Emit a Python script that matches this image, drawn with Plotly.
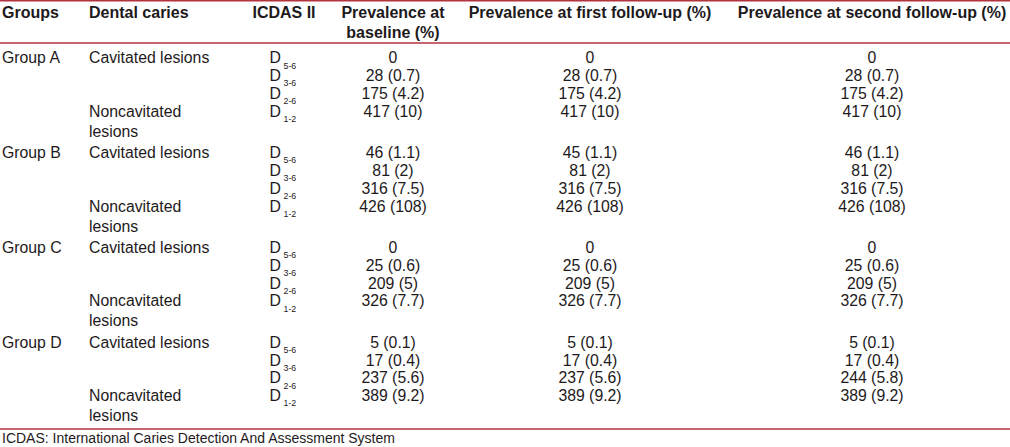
import plotly.graph_objects as go

# ---- data ----
groups = ["Group A", "Group B", "Group C", "Group D"]
caries_types = ["Cavitated lesions", "Noncavitated", "lesions"]
icdas_codes = ["5-6", "3-6", "2-6", "1-2"]
baseline = [
    ["0", "28 (0.7)", "175 (4.2)", "417 (10)"],
    ["46 (1.1)", "81 (2)", "316 (7.5)", "426 (108)"],
    ["0", "25 (0.6)", "209 (5)", "326 (7.7)"],
    ["5 (0.1)", "17 (0.4)", "237 (5.6)", "389 (9.2)"],
]
first_fu = [
    ["0", "28 (0.7)", "175 (4.2)", "417 (10)"],
    ["45 (1.1)", "81 (2)", "316 (7.5)", "426 (108)"],
    ["0", "25 (0.6)", "209 (5)", "326 (7.7)"],
    ["5 (0.1)", "17 (0.4)", "237 (5.6)", "389 (9.2)"],
]
second_fu = [
    ["0", "28 (0.7)", "175 (4.2)", "417 (10)"],
    ["46 (1.1)", "81 (2)", "316 (7.5)", "426 (108)"],
    ["0", "25 (0.6)", "209 (5)", "326 (7.7)"],
    ["5 (0.1)", "17 (0.4)", "244 (5.8)", "389 (9.2)"],
]
headers = ["Groups", "Dental caries", "ICDAS II", "Prevalence at", "baseline (%)",
           "Prevalence at first follow-up (%)", "Prevalence at second follow-up (%)"]
footnote = "ICDAS: International Caries Detection And Assessment System"

# ---- layout constants ----
W, H = 1010, 447
FONT = "Liberation Sans, Arial, sans-serif"
TXT = "#1e1a1b"
RED = "#b3323c"
FS = 15.8
FS_HEAD = 16
X_GROUP, X_CARIES, X_D, X_ICDAS_H = 2, 89, 269.5, 284
X_BASE, X_FIRST, X_SECOND = 393, 590, 872
Y0, GROUP_STEP, ROW_STEP, LES_GAP = 59.5, 94.8, 17.8, 20

fig = go.Figure()

def add_text(xs, ys, texts, pos, size=FS, color=TXT):
    fig.add_trace(go.Scatter(x=xs, y=ys, text=texts, mode="text", textposition=pos,
                             textfont=dict(family=FONT, size=size, color=color),
                             hoverinfo="skip", showlegend=False, cliponaxis=False))

# headers
add_text([X_GROUP, X_CARIES], [14, 14], [f"<b>{headers[0]}</b>", f"<b>{headers[1]}</b>"],
         "middle right", size=FS_HEAD)
add_text([X_ICDAS_H, X_BASE, X_BASE, X_FIRST, X_SECOND], [14, 14, 34, 14, 14],
         [f"<b>{h}</b>" for h in headers[2:]], "middle center", size=FS_HEAD)

# body
gx, gy, cx, cy, ct = [], [], [], [], []
dx, dy, sx, sy, st = [], [], [], [], []
vx, vy, vt = [], [], []
for g, name in enumerate(groups):
    top = Y0 + g * GROUP_STEP
    gx.append(X_GROUP); gy.append(top)
    cx += [X_CARIES] * 3
    cy += [top, top + 3 * ROW_STEP, top + 3 * ROW_STEP + LES_GAP]
    ct += caries_types
    for r, code in enumerate(icdas_codes):
        y = top + r * ROW_STEP
        dx.append(X_D); dy.append(y)
        sx.append(X_D + 14); sy.append(y + 7); st.append(code)
        for col_x, data in ((X_BASE, baseline), (X_FIRST, first_fu), (X_SECOND, second_fu)):
            vx.append(col_x); vy.append(y); vt.append(data[g][r])

add_text(gx, gy, groups, "middle right")
add_text(cx, cy, ct, "middle right")
add_text(dx, dy, ["D"] * len(dx), "middle right")
add_text(sx, sy, st, "middle right", size=8.8)
add_text(vx, vy, vt, "middle center")
add_text([X_GROUP], [439.5], [footnote], "middle right", size=14)

# rules
for y in (0.8, 43, 429):
    fig.add_shape(type="line", x0=0, x1=W, y0=y, y1=y, xref="x", yref="y",
                  line=dict(color=RED, width=1.6))

fig.update_layout(
    width=W, height=H, margin=dict(l=0, r=0, t=0, b=0),
    paper_bgcolor="white", plot_bgcolor="white",
    xaxis=dict(range=[0, W], visible=False, fixedrange=True),
    yaxis=dict(range=[H, 0], visible=False, fixedrange=True),
)
fig.write_html("out.html", config={"displayModeBar": False},
               post_script="document.body.style.margin='0px';document.body.style.overflow='hidden';")
